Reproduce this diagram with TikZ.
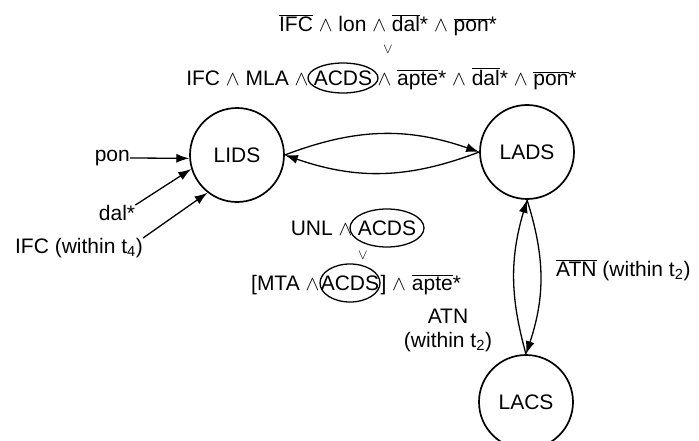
\documentclass[tikz,border=0pt]{standalone}
\usepackage{fontspec}
\setmainfont{Liberation Sans}
\usetikzlibrary{arrows.meta,shapes.geometric}
% overlined (negated) signal name
\newcommand\ovl[1]{$\overline{\hbox{#1}}$}
% logical "and" sign
\newcommand\AND{$\wedge$}
\tikzset{
  state/.style={circle, draw, line width=1.7pt, minimum size=94pt, inner sep=0pt,
                font=\fontsize{21}{24}\selectfont},
  lbl/.style={inner sep=0pt, font=\fontsize{21}{24}\selectfont},
  ovalline/.style={line width=1.3pt},
  edge/.style={line width=1.3pt, -{Latex[length=13pt,width=9pt]}},
  orsign/.style={inner sep=0pt, font=\fontsize{14}{16}\selectfont},
}
\begin{document}
\begin{tikzpicture}[x=1pt, y=-1pt]
\clip (0,0) rectangle (699,441);

% states
\node[state] (lids) at (237,155) {LIDS};
\node[state] (lads) at (527,152) {LADS};
\node[state] (lacs) at (526,402) {LACS};

% condition for LIDS -> LADS
\node[lbl] (c1) at (388,25) {\ovl{IFC} \AND{} lon \AND{} \ovl{dal}* \AND{} \ovl{pon}*};
\node[orsign] (or1) at (388,50) {$\vee$};
\node[lbl] (a1) at (343,78) {ACDS};
\draw[ovalline] (a1.center) ellipse [x radius=35pt, y radius=15pt];
\node[lbl, anchor=base east] (c2l) at ([xshift=-5pt]a1.base west) {IFC \AND{} MLA \AND};
\node[lbl, anchor=base west] (c2r) at ([xshift=5pt]a1.base east) {\AND{} \ovl{apte}* \AND{} \ovl{dal}* \AND{} \ovl{pon}*};

% condition for LADS -> LIDS
\node[lbl] (a2) at (387,228) {ACDS};
\draw[ovalline] (a2.center) ellipse [x radius=37pt, y radius=19pt];
\node[lbl, anchor=base east] (c3l) at ([xshift=-5pt]a2.base west) {UNL \AND};
\node[orsign] (or2) at (363,255) {$\vee$};
\node[lbl] (a3) at (350,283) {ACDS};
\draw[ovalline] (a3.center) ellipse [x radius=30pt, y radius=19pt];
\node[lbl, anchor=base east] (c4l) at ([xshift=-1pt]a3.base west) {[MTA \AND};
\node[lbl, anchor=base west] (c4r) at ([xshift=1pt]a3.base east) {] \AND{} \ovl{apte}*};

% inputs to LIDS
\node[lbl, anchor=east] (pon) at (130,158) {pon};
\node[lbl] (dal) at (117,213) {dal*};
\node[lbl] (ifc) at (79,248) {IFC (within t\textsubscript{4})};
\draw[edge] (pon.east) -- (lids.184);
\draw[edge] (dal.north east) -- (lids.197);
\draw[edge] (ifc.north east) -- (lids.232);

% LIDS <-> LADS
\draw[edge] (lids.east) to[bend left=20] (lads.west);
\draw[edge] (lads.west) to[bend left=20] (lids.east);

% LADS <-> LACS
\draw[edge] (lacs.north) to[bend left=16] (lads.south);
\draw[edge] (lads.south) to[bend left=18] (lacs.north);

\node[lbl, anchor=base west] (natn) at (556,276) {\ovl{ATN} (within t\textsubscript{2})};
\node[lbl, align=center] (atn) at (448,330) {ATN\\(within t\textsubscript{2})};
\end{tikzpicture}
\end{document}
